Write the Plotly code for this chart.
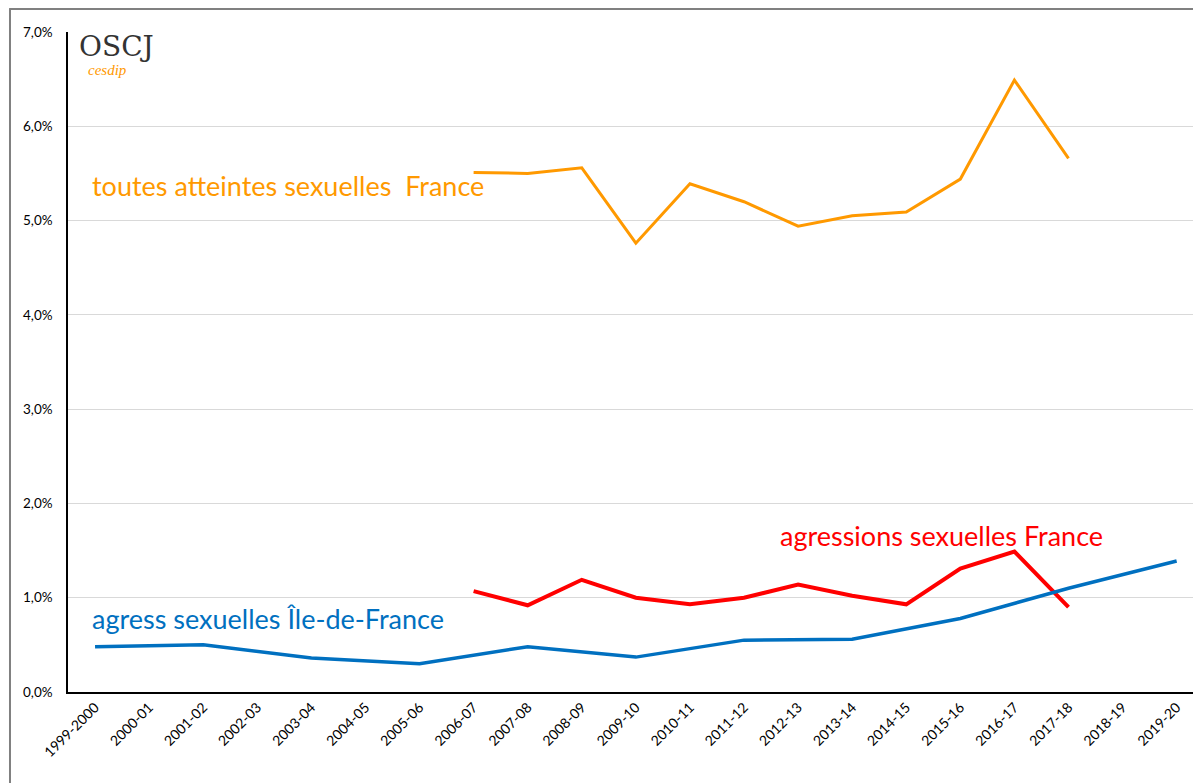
import plotly.graph_objects as go

categories = ["1999-2000", "2000-01", "2001-02", "2002-03", "2003-04", "2004-05",
              "2005-06", "2006-07", "2007-08", "2008-09", "2009-10", "2010-11",
              "2011-12", "2012-13", "2013-14", "2014-15", "2015-16", "2016-17",
              "2017-18", "2018-19", "2019-20"]

# values in percent
toutes_france = [None, None, None, None, None, None, None,
                 5.51, 5.50, 5.56, 4.76, 5.39, 5.20, 4.94, 5.05, 5.09, 5.44, 6.49, 5.66,
                 None, None]
agressions_france = [None, None, None, None, None, None, None,
                     1.07, 0.92, 1.19, 1.00, 0.93, 1.00, 1.14, 1.02, 0.93, 1.31, 1.49, 0.90,
                     None, None]
agress_idf = [0.48, None, 0.50, None, 0.36, None, 0.30, None, 0.48, None, 0.37, None,
              0.55, None, 0.56, None, 0.78, None, 1.10, None, 1.39]

ytick_vals = [0, 1, 2, 3, 4, 5, 6, 7]
ytick_text = ["0,0%", "1,0%", "2,0%", "3,0%", "4,0%", "5,0%", "6,0%", "7,0%"]

FONT = "Lato, 'Open Sans', sans-serif"

fig = go.Figure()
fig.add_trace(go.Scatter(x=categories, y=toutes_france, mode="lines",
                         line=dict(color="#FF9900", width=3), connectgaps=False,
                         name="toutes atteintes sexuelles France"))
fig.add_trace(go.Scatter(x=categories, y=agressions_france, mode="lines",
                         line=dict(color="#FF0000", width=4), connectgaps=False,
                         name="agressions sexuelles France"))
fig.add_trace(go.Scatter(x=categories, y=agress_idf, mode="lines",
                         line=dict(color="#0070C0", width=3.5), connectgaps=True,
                         name="agress sexuelles Île-de-France"))

fig.add_annotation(x=-0.1, y=5.37, xref="x", yref="y", text="toutes atteintes sexuelles  France",
                   showarrow=False, xanchor="left", yanchor="middle",
                   font=dict(family=FONT, size=27, color="#FF9900"))
fig.add_annotation(x=-0.1, y=0.78, xref="x", yref="y", text="agress sexuelles Île-de-France",
                   showarrow=False, xanchor="left", yanchor="middle",
                   font=dict(family=FONT, size=27, color="#0070C0"))
fig.add_annotation(x=12.63, y=1.66, xref="x", yref="y", text="agressions sexuelles France",
                   showarrow=False, xanchor="left", yanchor="middle",
                   font=dict(family=FONT, size=27, color="#FF0000"))

# logo
fig.add_annotation(x=-0.33, y=6.85, xref="x", yref="y", text="OSCJ",
                   showarrow=False, xanchor="left", yanchor="middle",
                   font=dict(family="'DejaVu Serif', serif", size=28, color="#333333"))
fig.add_annotation(x=-0.17, y=6.6, xref="x", yref="y", text="<i>cesdip</i>",
                   showarrow=False, xanchor="left", yanchor="middle",
                   font=dict(family="'Liberation Serif', serif", size=15, color="#FF9900"))

# outer frame of the chart area
fig.add_shape(type="line", xref="paper", yref="paper", x0=-0.052, x1=1.0, y0=1.035, y1=1.035,
              line=dict(color="#808080", width=2))
fig.add_shape(type="line", xref="paper", yref="paper", x0=-0.0512, x1=-0.0512, y0=1.035, y1=-0.2,
              line=dict(color="#808080", width=2))

# the page body has an 8px default margin: size the figure so the plot lands where the reference has it
fig.update_layout(
    width=1193, height=775,
    margin=dict(l=60, r=0, t=24, b=91),
    paper_bgcolor="white", plot_bgcolor="white",
    showlegend=False,
    font=dict(family=FONT, color="#000000"),
    xaxis=dict(type="category", range=[-0.5, 20.45], showgrid=False,
               showline=True, linecolor="#000000", linewidth=1.5,
               tickangle=-45, tickfont=dict(size=14, family=FONT), ticks="",
               automargin=False),
    yaxis=dict(range=[0, 7], tickvals=ytick_vals, ticktext=ytick_text,
               showgrid=True, gridcolor="#D9D9D9", gridwidth=1,
               showline=True, linecolor="#000000", linewidth=1.5,
               zeroline=False, ticks="", ticklabelstandoff=11,
               tickfont=dict(size=13.5, family=FONT), automargin=False),
)

fig.write_html("out.html")
